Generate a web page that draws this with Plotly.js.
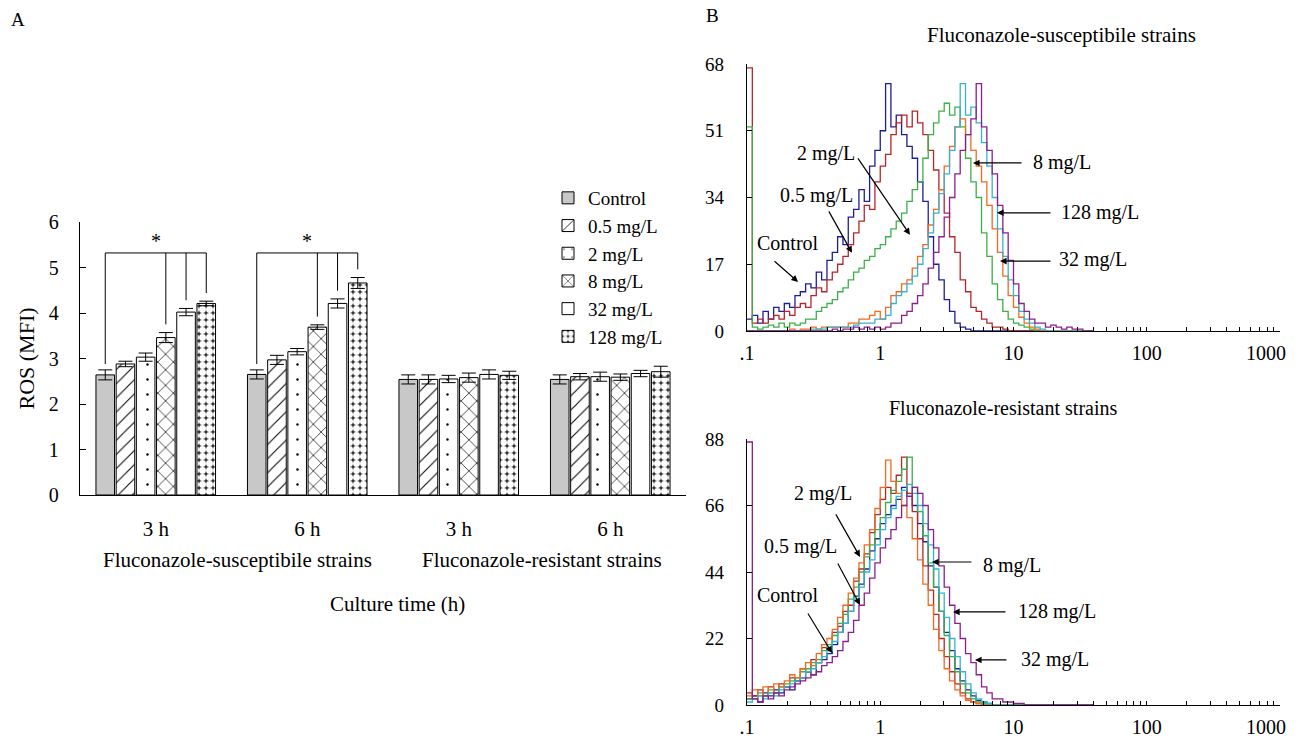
<!DOCTYPE html>
<html>
<head>
<meta charset="utf-8">
<script src="https://cdn.plot.ly/plotly-3.0.1.min.js"></script>
<style>html,body{margin:0;padding:0;background:#fff;}#chart{width:1299px;height:749px;}</style>
</head>
<body>
<div id="chart"></div>
<script>
// ---------- Panel A data ----------
const groupLabels = ['3 h', '6 h', '3 h', '6 h'];
const strainLabels = ['Fluconazole-susceptibile strains', 'Fluconazole-resistant strains'];
const seriesNames = ['Control', '0.5 mg/L', '2 mg/L', '8 mg/L', '32 mg/L', '128 mg/L'];
const rosControl = [2.64, 2.65, 2.54, 2.54];
const rosHalf    = [2.88, 2.97, 2.54, 2.60];
const rosTwo     = [3.03, 3.15, 2.55, 2.60];
const rosEight   = [3.46, 3.69, 2.58, 2.59];
const ros32      = [4.02, 4.21, 2.65, 2.67];
const ros128     = [4.21, 4.66, 2.63, 2.71];
const errControl = [0.11, 0.10, 0.10, 0.10];
const errHalf    = [0.06, 0.10, 0.10, 0.07];
const errTwo     = [0.09, 0.07, 0.08, 0.10];
const errEight   = [0.11, 0.05, 0.10, 0.07];
const err32      = [0.08, 0.10, 0.10, 0.07];
const err128     = [0.05, 0.12, 0.09, 0.12];

// ---------- Panel B data (log10 of fluorescence bins, counts) ----------
const logBins = [
 -1.00,-0.96,-0.92,-0.88,-0.84,-0.80,-0.76,-0.72,-0.68,-0.64,-0.60,
 -0.56,-0.52,-0.48,-0.44,-0.40,-0.36,-0.32,-0.28,-0.24,-0.20,-0.16,
 -0.12,-0.08,-0.04,0.00,0.04,0.08,0.12,0.16,0.20,0.24,0.28,
 0.32,0.36,0.40,0.44,0.48,0.52,0.56,0.60,0.64,0.68,0.72,
 0.76,0.80,0.84,0.88,0.92,0.96,1.00,1.04,1.08,1.12,1.16,
 1.20,1.24,1.28,1.32,1.36,1.40,1.44,1.48,1.52,1.56,1.60];

const topControl = [
 3,4,2,5,3,6,5,7,6,9,10,
 12,11,15,13,18,20,24,22,29,31,36,
 33,42,46,51,63,52,55,50,47,44,38,
 33,24,17,13,8,5,2,1,0.5,0,0,
 0,0,0,0,0,0,0,0,0,0,0,
 0,0,0,0,0,0,0,0,0,0,0];
const topHalf = [
 67,2,3,2,3,4,3,5,4,6,7,
 6,9,11,10,13,15,17,19,22,25,28,
 32,31,38,42,45,50,53,55,52,56,53,
 50,46,41,36,30,24,20,13,10,6,5,
 3,2,1,1,0.5,0,0,0,0,0,0,
 0,0,0,0,0,0,0,0,0,0,0];
const topTwo = [
 52,1,0.5,1,1.5,1,2,1,2,1.5,2,
 3,3,5,6,7,8,10,11,13,15,16,
 18,19,21,22,24,26,28,30,33,36,38,
 44,50,53,56,58,55,57,52,44,38,34,
 25,19,12,8,5,3,2,1.5,1,0.5,0,
 0,0,0,0,0,0,0,0,0,0,0];
const topEight = [
 0,0,0,0,0,0,0,0,0.5,0,0.5,
 0.5,1,0.5,1,1,1,1,1,2,2,3,
 3,4,5,3,6,9,10,12,13,16,19,
 22,27,31,36,42,47,52,54,50,46,42,
 38,32,26,20,14,9,6,3.5,2,1,0.5,
 0,0,0,0,0,0,0,0,0,0,0];
const top32 = [
 0,0,0,0,0,0,0,0,0,0,0,
 0,0.5,0.5,0.5,1,1,1,1,1,1.5,2,
 2,2,3,3,4,7,9,10,12,14,17,
 21,25,30,35,40,46,52,63,55,57,53,
 48,42,34,26,19,13,9,5,3,2,1,
 0.5,0,0,0,0,0,0,0,0,0,0];
const top128 = [
 0,0,0,0,0,0,0,0,0,0,0,
 0,0,0,0,0,0.5,0,0.5,0.5,1,0.5,
 1,0.5,1,0.5,1,2,2,4,5,7,9,
 12,16,20,24,29,34,40,46,50,54,63,
 52,46,40,32,25,18,12,7,5,3,2,
 2,1,1.5,1,0.5,1,0.5,0.5,0,0,0];

const botControl = [
 2,3,1,4,3,5,4,6,5,8,9,
 11,10,14,15,17,20,24,27,31,36,40,
 45,51,55,60,63,66,68,72,69,66,60,
 54,46,39,31,24,18,12,8,5,3,1.5,
 1,0.5,0,0,0,0,0,0,0,0,0,
 0,0,0,0,0,0,0,0,0,0,0];
const botHalf = [
 4,3,5,3,6,4,7,6,9,8,12,
 11,15,14,19,18,24,26,31,33,41,45,
 50,57,63,68,72,70,76,82,70,64,55,
 46,38,30,22,16,11,7,4,2,1,0.5,
 0,0,0,0,0,0,0,0,0,0,0,
 0,0,0,0,0,0,0,0,0,0,0];
const botTwo = [
 2,2,4,3,5,4,6,7,8,9,11,
 12,14,15,18,20,23,27,30,35,39,44,
 49,53,58,62,67,71,74,78,82,72,64,
 56,47,39,31,23,16,11,7,4,2,1,
 0.5,0,0,0,0,0,0,0,0,0,0,
 0,0,0,0,0,0,0,0,0,0,0];
const botEight = [
 3,5,3,6,4,7,6,8,10,9,12,
 14,13,17,20,22,25,29,33,37,42,47,
 53,58,65,72,81,74,70,66,62,55,48,
 40,33,25,18,12,8,5,3,1.5,1,0.5,
 0,0,0,0,0,0,0,0,0,0,0,
 0,0,0,0,0,0,0,0,0,0,0];
const bot32 = [
 1,2,3,2,4,3,5,6,7,8,9,
 11,12,14,16,18,21,24,27,31,35,39,
 44,48,53,58,62,65,69,71,73,70,66,
 60,53,45,37,29,22,16,11,7,4,2,
 1,0.5,0,0,0,0,0,0,0,0,0,
 0,0,0,0,0,0,0,0,0,0,0];
const bot128 = [
 87,2,1,3,2,4,3,5,6,7,8,
 9,10,11,13,14,16,18,21,24,28,33,
 37,42,47,52,55,58,62,66,69,72,70,
 66,58,52,46,39,33,27,22,17,14,10,
 6,4,2,2,1,1,0.5,0.5,0,0,0,
 0,0,0,0,0,0,0,0,0,0,0];

const topTicksY = [0, 17, 34, 51, 68];
const botTicksY = [0, 22, 44, 66, 88];
const decadeVals = [0.1, 1, 10, 100, 1000];
const decadeText = ['.1', '1', '10', '100', '1000'];

// ---------- build ----------
const FONT = 'Liberation Serif, Times New Roman, serif';
const catX = [0, 1, 2, 3];

const barVals = [rosControl, rosHalf, rosTwo, rosEight, ros32, ros128];
const barErrs = [errControl, errHalf, errTwo, errEight, err32, err128];
const barMarkers = [
  {color: '#c8c8c8', line: {color: '#000', width: 1}},
  {color: 'white', line: {color: '#000', width: 1}, pattern: {shape: '/', fgcolor: '#000', bgcolor: 'white', size: 10, solidity: 0.1}},
  {color: 'white', line: {color: '#000', width: 1}, pattern: {shape: '.', fgcolor: '#000', bgcolor: 'white', size: 15, solidity: 0.02}},
  {color: 'white', line: {color: '#000', width: 1}, pattern: {shape: 'x', fgcolor: '#000', bgcolor: 'white', size: 11, solidity: 0.12}},
  {color: 'white', line: {color: '#000', width: 1}},
  {color: 'white', line: {color: '#000', width: 1}, pattern: {shape: '.', fgcolor: 'white', bgcolor: '#333', size: 7, solidity: 0.76}}
];

const traces = [];
seriesNames.forEach((name, i) => {
  traces.push({
    type: 'bar', name: name, x: catX, y: barVals[i],
    marker: barMarkers[i], legendgroup: 'g' + i,
    error_y: {type: 'data', array: barErrs[i], visible: true, color: '#000', thickness: 1, width: 7},
    xaxis: 'x', yaxis: 'y', hoverinfo: 'y'
  });
});

const xB = logBins.map(v => Math.pow(10, v));
const lineColors = ['#1e1e98', '#b5262c', '#3daf48', '#f26a20', '#38b3c9', '#8c1f8c'];
const topSets = [topControl, topHalf, topTwo, topEight, top32, top128];
const botSets = [botControl, botHalf, botTwo, botEight, bot32, bot128];
topSets.forEach((ys, i) => traces.push({
  type: 'scatter', mode: 'lines', x: xB, y: ys, xaxis: 'x2', yaxis: 'y2',
  line: {color: lineColors[i], width: 1.3, shape: 'hv'}, showlegend: false, name: seriesNames[i]
}));
botSets.forEach((ys, i) => traces.push({
  type: 'scatter', mode: 'lines', x: xB, y: ys, xaxis: 'x3', yaxis: 'y3',
  line: {color: lineColors[i], width: 1.3, shape: 'hv'}, showlegend: false, name: seriesNames[i]
}));

// log tick positions (decades + intermediate minor ticks); the last decade label
// sits left of its tick in the reference, so it is drawn as a separate text below
const logTickVals = [], logTickText = [];
decadeVals.forEach((d, k) => {
  logTickVals.push(d); logTickText.push(k < decadeVals.length - 1 ? decadeText[k] : '');
  if (k < decadeVals.length - 1) for (let m = 2; m <= 9; m++) { logTickVals.push(d * m); logTickText.push(''); }
});

// significance brackets
const slot = 0.8 / 6;
const barCenter = (g, i) => g - 0.4 + slot * (i + 0.5);
const shapes = [];
const annotations = [];
const bracketTop = 5.32;
[0, 1].forEach(g => {
  const line = (x0, y0, x1, y1) => shapes.push({type: 'line', xref: 'x', yref: 'y', x0, y0, x1, y1, line: {color: '#000', width: 1}});
  const cx = barCenter(g, 0);
  line(cx, barVals[0][g] + barErrs[0][g] + 0.13, cx, bracketTop);
  line(cx, bracketTop, barCenter(g, 5), bracketTop);
  [3, 4, 5].forEach(i => {
    const x = barCenter(g, i);
    line(x, bracketTop, x, barVals[i][g] + barErrs[i][g] + 0.18);
  });
  annotations.push({xref: 'x', yref: 'y', x: (cx + barCenter(g, 5)) / 2, y: 5.58, text: '*', showarrow: false,
    xanchor: 'center', yanchor: 'middle', font: {size: 20, family: FONT, color: '#000'}});
});

const txt = (text, x, y, xref, yref, size) => ({text, x, y, xref, yref, showarrow: false,
  xanchor: 'center', yanchor: 'middle', font: {family: FONT, size: size || 20, color: '#000'}});
annotations.push(txt(strainLabels[0], 238 / 1299, 1 - 560 / 749, 'paper', 'paper', 21));
annotations.push(txt(strainLabels[1], 542 / 1299, 1 - 560 / 749, 'paper', 'paper', 21));
annotations.push(txt('Culture time (h)', 397 / 1299, 1 - 604 / 749, 'paper', 'paper', 21));
annotations.push(txt('A', 18 / 1299, 1 - 20 / 749, 'paper', 'paper', 19));
annotations.push(txt('B', 712 / 1299, 1 - 15 / 749, 'paper', 'paper', 19));
annotations.push(txt('Fluconazole-susceptibile strains', 1061 / 1299, 1 - 35 / 749, 'paper', 'paper', 21));
annotations.push(txt('Fluconazole-resistant strains', 1003 / 1299, 1 - 408 / 749, 'paper', 'paper', 20));
annotations.push(txt(decadeText[4], 1266 / 1299, 1 - 353 / 749, 'paper', 'paper', 20));
annotations.push(txt(decadeText[4], 1266 / 1299, 1 - 727 / 749, 'paper', 'paper', 20));

// curve labels with arrows: [label, textX(log), textY, tipX(log), tipY, ax, ay]
const topLabels = [
  ['2 mg/L', -0.407, 45.3, 0.223, 24.5, -53, -78],
  ['0.5 mg/L', -0.475, 34.6, -0.212, 19.9, -24, -43],
  ['Control', -0.692, 22.4, -0.617, 12.5, -25, -22],
  ['8 mg/L', 1.364, 43.0, 0.696, 42.8, 50, 0],
  ['128 mg/L', 1.649, 30.1, 0.876, 30.1, 55, 0],
  ['32 mg/L', 1.597, 18.1, 0.899, 17.8, 52, 0]
];
const botLabels = [
  ['2 mg/L', -0.430, 70.1, -0.152, 49.0, -25, -44],
  ['0.5 mg/L', -0.602, 52.3, -0.152, 33.1, -23, -43],
  ['Control', -0.692, 36.4, -0.362, 17.2, -25, -41],
  ['8 mg/L', 0.989, 46.3, 0.388, 47.3, 41, 0],
  ['128 mg/L', 1.326, 30.8, 0.546, 30.8, 54, 0],
  ['32 mg/L', 1.311, 14.9, 0.711, 14.9, 33, 0]
];
[[topLabels, 'x2', 'y2'], [botLabels, 'x3', 'y3']].forEach(([set, xr, yr]) => {
  set.forEach(l => {
    annotations.push(txt(l[0], l[1], l[2], xr, yr, 20));
    annotations.push({xref: xr, yref: yr, x: l[3], y: l[4], ax: l[5], ay: l[6], text: '', showarrow: true,
      arrowhead: 2, arrowsize: 1.1, arrowwidth: 1.2, arrowcolor: '#000'});
  });
});

const axisCommon = {showline: true, linecolor: '#000', linewidth: 1.2, showgrid: false, zeroline: false,
  tickfont: {family: FONT, size: 20, color: '#000'}, tickcolor: '#000', fixedrange: true};

const layout = {
  width: 1299, height: 749, autosize: false,
  margin: {l: 0, r: 0, t: 0, b: 0},
  paper_bgcolor: 'white', plot_bgcolor: 'white',
  font: {family: FONT, size: 20, color: '#000'},
  barmode: 'group', bargap: 0.2, bargroupgap: 0.08,
  showlegend: true,
  legend: {x: 548 / 1299, y: 1 - 179 / 749, xanchor: 'left', yanchor: 'top', bgcolor: 'rgba(0,0,0,0)',
    font: {family: FONT, size: 19, color: '#000'}, tracegroupgap: 0, traceorder: 'normal'},
  xaxis: Object.assign({}, axisCommon, {domain: [80 / 1299, 686 / 1299], anchor: 'y', range: [-0.5, 3.5],
    tickvals: catX, ticktext: groupLabels, ticks: '', ticklabelstandoff: 15, tickfont: {family: FONT, size: 21, color: '#000'}}),
  yaxis: Object.assign({}, axisCommon, {domain: [1 - 495 / 749, 1 - 222 / 749], anchor: 'x', range: [0, 6], dtick: 1,
    ticks: 'inside', ticklen: 6, ticklabelstandoff: 16, tickfont: {family: FONT, size: 20, color: '#000'},
    title: {text: 'ROS (MFI)', font: {family: FONT, size: 22, color: '#000'}, standoff: 8}}),
  xaxis2: Object.assign({}, axisCommon, {domain: [747 / 1299, 1280 / 1299], anchor: 'y2', type: 'log', range: [-1, 3],
    tickmode: 'array', tickvals: logTickVals, ticktext: logTickText, ticks: 'inside', ticklen: 4, ticklabelstandoff: 4}),
  yaxis2: Object.assign({}, axisCommon, {domain: [1 - 331 / 749, 1 - 64 / 749], anchor: 'x2', range: [0, 68],
    tickmode: 'array', tickvals: topTicksY, ticks: 'inside', ticklen: 5, ticklabelstandoff: 18, tickfont: {family: FONT, size: 19, color: '#000'}}),
  xaxis3: Object.assign({}, axisCommon, {domain: [747 / 1299, 1280 / 1299], anchor: 'y3', type: 'log', range: [-1, 3],
    tickmode: 'array', tickvals: logTickVals, ticktext: logTickText, ticks: 'inside', ticklen: 4, ticklabelstandoff: 4}),
  yaxis3: Object.assign({}, axisCommon, {domain: [1 - 705 / 749, 1 - 439 / 749], anchor: 'x3', range: [0, 88],
    tickmode: 'array', tickvals: botTicksY, ticks: 'inside', ticklen: 5, ticklabelstandoff: 18, tickfont: {family: FONT, size: 19, color: '#000'}}),
  shapes: shapes,
  annotations: annotations
};

Plotly.newPlot('chart', traces, layout, {staticPlot: true, displayModeBar: false});
</script>
</body>
</html>
